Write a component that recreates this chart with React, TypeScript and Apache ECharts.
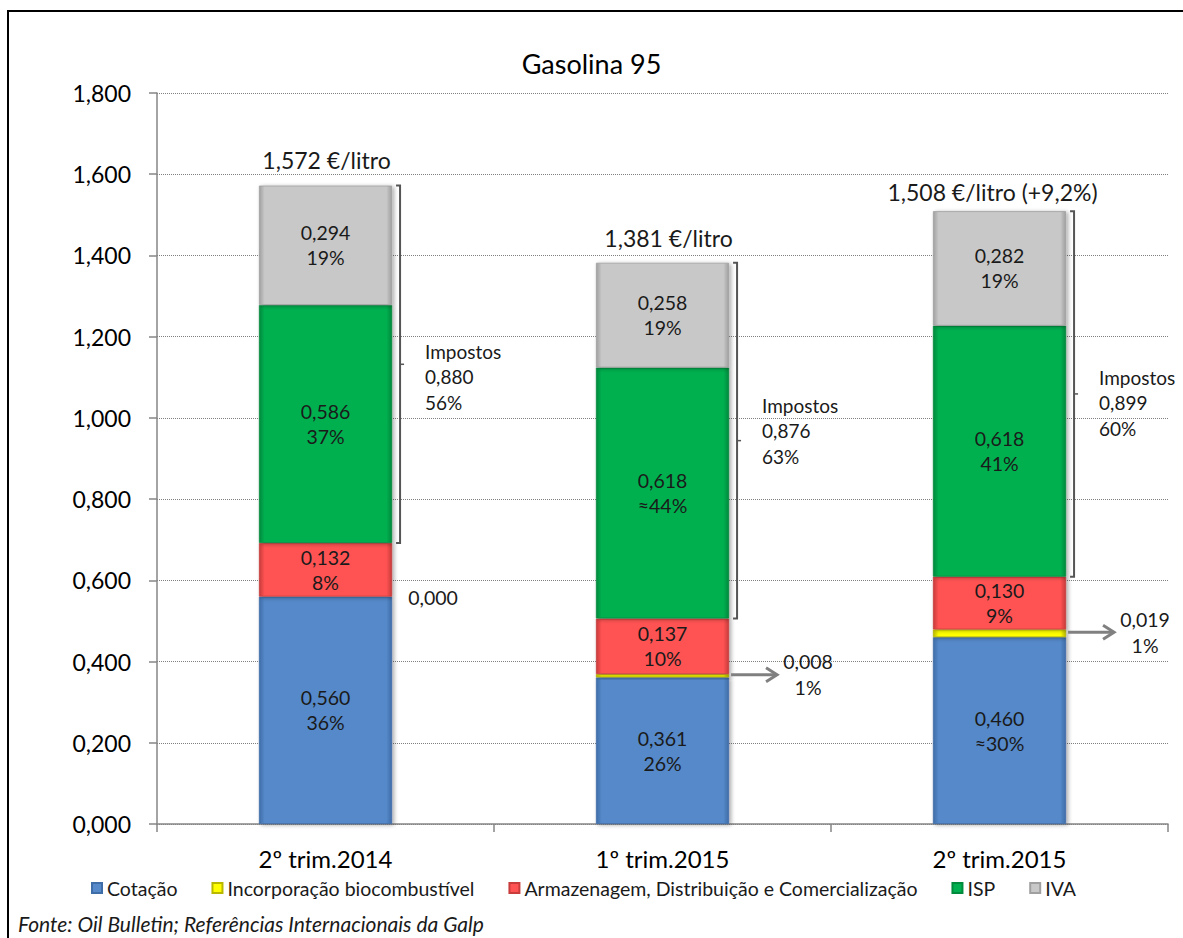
import React, { useEffect, useRef } from 'react';
import * as echarts from 'echarts';

const categories = ['2º trim.2014', '1º trim.2015', '2º trim.2015'];
const cotacao = [0.560, 0.361, 0.460];
const bio = [0.000, 0.008, 0.019];
const armazenagem = [0.132, 0.137, 0.130];
const isp = [0.586, 0.618, 0.618];
const iva = [0.294, 0.258, 0.282];
const cotacaoPct = ['36%', '26%', '≈30%'];
const bioPct = ['', '1%', '1%'];
const armazenagemPct = ['8%', '10%', '9%'];
const ispPct = ['37%', '≈44%', '41%'];
const ivaPct = ['19%', '19%', '19%'];
const totals = [1.572, 1.381, 1.508];
const totalNotes = ['', '', ' (+9,2%)'];
const impostos = [0.880, 0.876, 0.899];
const impostosPct = ['56%', '63%', '60%'];
const seriesNames = ['Cotação', 'Incorporação biocombustível', 'Armazenagem, Distribuição e Comercialização', 'ISP', 'IVA'];
const yMin = 0;
const yMax = 1.8;
const yInterval = 0.2;

// layout tweaks for annotations (pixels)
const impostosShift = [-13, -35, -16];
const totalGap = [26, 25, 19];
const totalShiftX = [1, 6, -7];

const FONT = 'Lato, "Open Sans", sans-serif';
const BAR_FRAC = 0.395;
const fmt = (v: number) => v.toFixed(3).replace('.', ',');

function grad(base: string, edge: string) {
  return new echarts.graphic.LinearGradient(0, 0, 1, 0, [
    { offset: 0, color: edge },
    { offset: 0.04, color: base },
    { offset: 0.96, color: base },
    { offset: 1, color: edge },
  ]);
}

export default function App() {
  const ref = useRef<HTMLDivElement>(null);
  useEffect(() => {
    document.body.style.margin = '0';
    const chart = echarts.init(ref.current!, null, { renderer: 'svg' });
    const colors = ['#5589C9', '#FFFF00', '#FF5252', '#00B050', '#C8C8C8'];
    const edges = ['#3F6DA8', '#B8B800', '#C83C3C', '#008A3C', '#A0A0A0'];
    const values = [cotacao, bio, armazenagem, isp, iva];
    const pcts = [cotacaoPct, bioPct, armazenagemPct, ispPct, ivaPct];
    const sums = categories.map((_, i) => cotacao[i] + bio[i] + armazenagem[i] + isp[i] + iva[i]);

    const barSeries = values.map((vals, s) => ({
      type: 'bar',
      name: seriesNames[s],
      stack: 'total',
      barWidth: `${BAR_FRAC * 100}%`,
      data: vals,
      itemStyle: {
        color: grad(colors[s], edges[s]),
        borderColor: edges[s],
        borderWidth: 0.8,
        shadowColor: 'rgba(0,0,0,0.35)',
        shadowBlur: 4,
        shadowOffsetX: 2,
        shadowOffsetY: 1,
      },
      label: {
        show: s !== 1,
        position: 'inside',
        color: '#1a1a1a',
        fontFamily: FONT,
        fontSize: 19.5,
        lineHeight: 25,
        formatter: (p: any) => `${fmt(p.value)}\n${pcts[s][p.dataIndex]}`,
      },
    }));

    const bracketSeries = {
      type: 'custom',
      name: 'brackets',
      z: 5,
      encode: { x: 0, y: [1, 2] },
      data: categories.map((_, i) => [i, cotacao[i] + bio[i] + armazenagem[i], sums[i]]),
      renderItem: (params: any, api: any) => {
        const i = params.dataIndex;
        const pTop = api.coord([api.value(0), api.value(2)]);
        const pBot = api.coord([api.value(0), api.value(1)]);
        const band = api.size([1, 0])[0];
        const x = pTop[0] + (band * BAR_FRAC) / 2 + 8;
        const yMid = (pTop[1] + pBot[1]) / 2;
        const ty = yMid + impostosShift[i];
        const tx = x + 25;
        const txtStyle = (t: string, yy: number) => ({
          type: 'text',
          style: { text: t, x: tx, y: yy, fill: '#1a1a1a', font: `19px ${FONT}`, textAlign: 'left', textVerticalAlign: 'middle' },
        });
        return {
          type: 'group',
          children: [
            {
              type: 'polyline',
              shape: { points: [[x - 4, pTop[1]], [x, pTop[1]], [x, pBot[1]], [x - 4, pBot[1]]] },
              style: { stroke: '#555', lineWidth: 2, fill: 'none' },
            },
            {
              type: 'line',
              shape: { x1: x, y1: yMid, x2: x + 4, y2: yMid },
              style: { stroke: '#555', lineWidth: 1.5 },
            },
            txtStyle('Impostos', ty),
            txtStyle(fmt(impostos[i]), ty + 25),
            txtStyle(impostosPct[i], ty + 51),
            {
              type: 'text',
              style: {
                text: `${fmt(totals[i])} €/litro${totalNotes[i]}`,
                x: pTop[0] + totalShiftX[i],
                y: pTop[1] - totalGap[i],
                fill: '#1a1a1a',
                font: `23px ${FONT}`,
                textAlign: 'center',
                textVerticalAlign: 'middle',
              },
            },
          ],
        };
      },
    };

    const bioSeries = {
      type: 'custom',
      name: 'bioNotes',
      z: 5,
      encode: { x: 0, y: [1, 2] },
      data: categories.map((_, i) => [i, cotacao[i], cotacao[i] + bio[i]]),
      renderItem: (params: any, api: any) => {
        const i = params.dataIndex;
        const pA = api.coord([api.value(0), api.value(1)]);
        const pB = api.coord([api.value(0), api.value(2)]);
        const band = api.size([1, 0])[0];
        const right = pA[0] + (band * BAR_FRAC) / 2;
        const y = (pA[1] + pB[1]) / 2 - 1;
        const children: any[] = [];
        const txt = (t: string, xx: number, yy: number) => ({
          type: 'text',
          style: { text: t, x: xx, y: yy, fill: '#1a1a1a', font: `19.5px ${FONT}`, textAlign: 'center', textVerticalAlign: 'middle' },
        });
        if (bio[i] > 0) {
          const x1 = right + 2;
          const x2 = right + 48;
          children.push({ type: 'line', shape: { x1, y1: y, x2: x2 - 2, y2: y }, style: { stroke: '#808080', lineWidth: 3 } });
          children.push({
            type: 'polyline',
            shape: { points: [[x2 - 11, y - 7], [x2, y], [x2 - 11, y + 7]] },
            style: { stroke: '#808080', lineWidth: 3, fill: 'none' },
          });
          children.push(txt(fmt(bio[i]), right + 79, y - 13));
          children.push(txt(bioPct[i], right + 79, y + 13));
        } else {
          children.push(txt(fmt(bio[i]), right + 41, y + 2));
        }
        return { type: 'group', children };
      },
    };

    chart.setOption({
      animation: false,
      title: {
        text: 'Gasolina 95',
        left: 'center',
        top: 45,
        textStyle: { fontFamily: FONT, fontSize: 27, fontWeight: 'normal', color: '#000' },
      },
      grid: { left: 157, right: 15, top: 93, bottom: 114 },
      legend: {
        data: seriesNames,
        top: 873,
        left: 86,
        icon: 'rect',
        itemWidth: 10,
        itemHeight: 10,
        itemGap: 34,
        textStyle: { fontFamily: FONT, fontSize: 19.5, color: '#1a1a1a' },
      },
      xAxis: {
        type: 'category',
        data: categories,
        axisLine: { lineStyle: { color: '#868686', width: 1.5 } },
        axisTick: { show: true, length: 8, interval: 0, lineStyle: { color: '#868686', width: 1.5 } },
        axisLabel: { color: '#000', fontFamily: FONT, fontSize: 24, margin: 22 },
      },
      yAxis: {
        type: 'value',
        min: yMin,
        max: yMax,
        interval: yInterval,
        axisLine: { show: true, lineStyle: { color: '#868686', width: 1.5 } },
        axisTick: { show: true, length: 8, lineStyle: { color: '#868686', width: 1.5 } },
        axisLabel: { color: '#000', fontFamily: FONT, fontSize: 23, margin: 26, formatter: (v: number) => fmt(v) },
        splitLine: { show: true, lineStyle: { color: '#808080', type: 'dotted', width: 1 } },
      },
      graphic: [
        {
          type: 'rect',
          shape: { x: 8, y: 11, width: 1200, height: 960 },
          style: { fill: 'none', stroke: '#000', lineWidth: 2 },
          silent: true,
        },
        {
          type: 'text',
          left: 18,
          top: 913,
          style: { text: 'Fonte: Oil Bulletin; Referências Internacionais da Galp', fill: '#1a1a1a', font: `italic 21px ${FONT}` },
        },
      ],
      series: [...barSeries, bracketSeries, bioSeries],
    });
    return () => chart.dispose();
  }, []);
  return <div ref={ref} style={{ width: 1183, height: 938, position: 'absolute', left: 0, top: 0 }} />;
}
